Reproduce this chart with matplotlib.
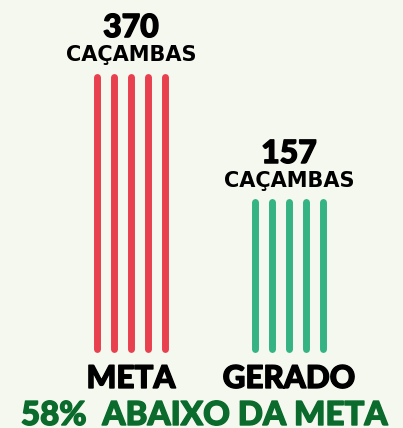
import numpy as np
import matplotlib.pyplot as plt
import matplotlib.patheffects as pe

categorias = ['META', 'GERADO']
cacambas = [370, 157]
cores = ['#e8404e', '#35b383']
rodape = '58%  ABAIXO DA META'

base = -90          # bottom of the stripes
n_listras = 5
passo = 0.108       # spacing between stripes inside a group

fundo = '#f5f8ee'
fig = plt.figure(figsize=(4.03, 4.28), dpi=100, facecolor=fundo)
ax = fig.add_axes([0, 0.1857, 1, 0.6355])
ax.set_facecolor(fundo)
ax.set_xlim(-0.829, 1.722)
ax.set_ylim(base, 370)
ax.axis('off')

# Lato only ships bold here, a thin outline makes it look heavier
preto = [pe.withStroke(linewidth=1.0, foreground='black')]
verde = [pe.withStroke(linewidth=1.0, foreground='#0a6b2d')]
grossa = dict(family='Lato', fontweight='black', color='black', path_effects=preto)

offs = (np.arange(n_listras) - (n_listras - 1) / 2) * passo
for i, (cat, val, cor) in enumerate(zip(categorias, cacambas, cores)):
    for dx in offs:
        ax.plot([i + dx, i + dx], [base, val], color=cor, linewidth=5.0,
                solid_capstyle='round', clip_on=False)
    ax.annotate(str(val), (i, val), xytext=(0, 28.4), textcoords='offset points',
                ha='center', va='baseline', fontsize=23, annotation_clip=False, **grossa)
    ax.annotate('CAÇAMBAS', (i, val), xytext=(0, 11.2), textcoords='offset points',
                ha='center', va='baseline', fontsize=15, fontweight='bold', color='black',
                family='DejaVu Sans', annotation_clip=False)
    ax.annotate(cat, (i, base), xytext=(0, -28.4), textcoords='offset points',
                ha='center', va='baseline', fontsize=22.6, annotation_clip=False, **grossa)

fig.text(204 / 403, 3 / 428, rodape, ha='center', va='baseline',
         fontsize=23.8, family='Lato', fontweight='black', color='#0a6b2d',
         path_effects=verde)

fig.savefig('out.png', dpi=100, facecolor=fundo)
